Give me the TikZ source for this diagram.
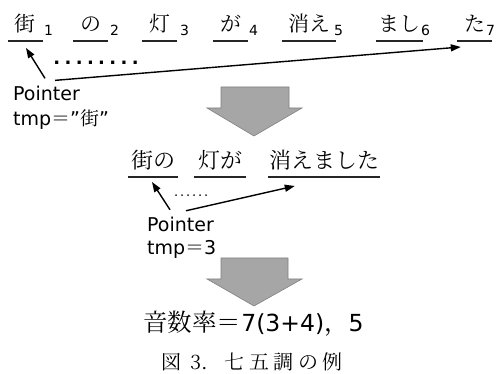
\documentclass[tikz,border=0pt]{standalone}
\usepackage{fontspec}
\usetikzlibrary{arrows.meta,calc}
\setmainfont{DejaVu Sans}
\IfFontExistsTF{Noto Serif CJK JP}{\newfontfamily\jpm{Noto Serif CJK JP}}{\newfontfamily\jpm{Noto Sans CJK JP}}
\begin{document}
\begin{tikzpicture}[x=1pt,y=-1pt,
  word/.style={inner sep=0pt, font=\jpm\fontsize{21}{21}\selectfont, anchor=base},
  mword/.style={inner sep=0pt, font=\jpm\fontsize{22}{22}\selectfont, anchor=base},
  sub/.style={inner sep=0pt, font=\fontsize{14}{14}\selectfont, anchor=base west},
  lat/.style={inner sep=0pt, font=\fontsize{19}{19}\selectfont, anchor=base west},
  uline/.style={line width=1.3pt, black!85},
  ptr/.style={line width=1.4pt, -{Triangle[length=10pt,width=7pt]}},
  bigarrow/.style={fill=black!35, draw=black!50, line width=0.6pt}]
\useasboundingbox (0,0) rectangle (501,374);
% top row
\node[word, minimum width=35pt] (w1) at (25.5,31.5) {街};
\node[word, minimum width=35pt] (w2) at (90.5,31.5) {の};
\node[word, minimum width=35pt] (w3) at (159.5,31.5) {灯};
\node[word, minimum width=35pt] (w4) at (230.5,31.5) {が};
\node[word, minimum width=54pt] (w5) at (309,31.5) {消え};
\node[word, minimum width=47pt] (w6) at (399.5,31.5) {まし};
\node[word, minimum width=35pt] (w7) at (474.5,31.5) {た};
\foreach \w in {w1,w2,w3,w4,w5,w6,w7}
  \draw[uline] ([yshift=-9.5pt]\w.base west) -- ([yshift=-9.5pt]\w.base east);
\node[sub] (s1) at (44,35.5) {1};
\node[sub] (s2) at (110,35.5) {2};
\node[sub] (s3) at (180,35.5) {3};
\node[sub] (s4) at (249,35.5) {4};
\node[sub] (s5) at (334,35.5) {5};
\node[sub] (s6) at (421,35.5) {6};
\node[sub] (s7) at (486,35.5) {7};
\node[inner sep=0pt, anchor=base west, font=\bfseries\fontsize{18}{18}\selectfont] (d1) at (53.1,64.8)
  {.\kern4.4pt.\kern4.4pt.\kern4.4pt.\kern4.4pt.\kern4.4pt.\kern4.4pt.\kern4.4pt.};
\node[lat] (p1) at (13,101) {Pointer};
\node[lat] (t1) at (13,126) {tmp{\jpm ＝}”{\jpm 街}”};
\draw[ptr] ($(p1.north west)+(32,-8)$) -- ($(w1.base)+(0.5,16.5)$);
\draw[ptr] ($(p1.north west)+(42,-6)$) -- ($(w7.base west)+(4,15.5)$);
% big arrow 1
\draw[bigarrow] (221,87) -- (289,87) -- (289,108) -- (302,108) -- (254,136) -- (207,108) -- (221,108) -- cycle;
% middle row
\node[mword, minimum width=50pt] (m1) at (153,168.5) {街の};
\node[mword, minimum width=52pt] (m2) at (220,168.5) {灯が};
\node[mword, minimum width=112pt] (m3) at (324,168.5) {消えました};
\foreach \w in {m1,m2,m3}
  \draw[uline] ([yshift=-8.5pt]\w.base west) -- ([yshift=-8.5pt]\w.base east);
\node[inner sep=0pt, anchor=base west, font=\fontsize{13}{13}\selectfont] (d2) at (173.8,197)
  {.\kern1.9pt.\kern1.9pt.\kern1.9pt.\kern1.9pt.\kern1.9pt.};
\node[lat] (p2) at (147,232) {Pointer};
\node[lat] (t2) at (147,255) {tmp{\jpm ＝}3};
\draw[ptr] ($(p2.north west)+(23,-7.6)$) -- ($(m1.base)+(-1,13.5)$);
\draw[ptr] ($(p2.north west)+(39,-6.6)$) -- ($(m3.base west)+(27,17.5)$);
% big arrow 2
\draw[bigarrow] (221,258) -- (288,258) -- (288,279) -- (302,279) -- (254,306) -- (207,279) -- (221,279) -- cycle;
% bottom
\node[inner sep=0pt, anchor=base, font=\fontsize{23.5}{23.5}\selectfont] (eq) at (253.5,331)
  {{\jpm\fontsize{24.5}{24.5}\selectfont 音数率＝}7(3+4){\jpm\fontsize{24.5}{24.5}\selectfont ，}5};
\node[inner sep=0pt, anchor=base, font=\jpm\fontsize{20}{20}\selectfont] (cap) at (252,369)
  {図\kern9pt 3.\kern17pt 七\kern4.5pt 五\kern4.5pt 調\kern4.5pt の\kern4.5pt 例};
\end{tikzpicture}
\end{document}
